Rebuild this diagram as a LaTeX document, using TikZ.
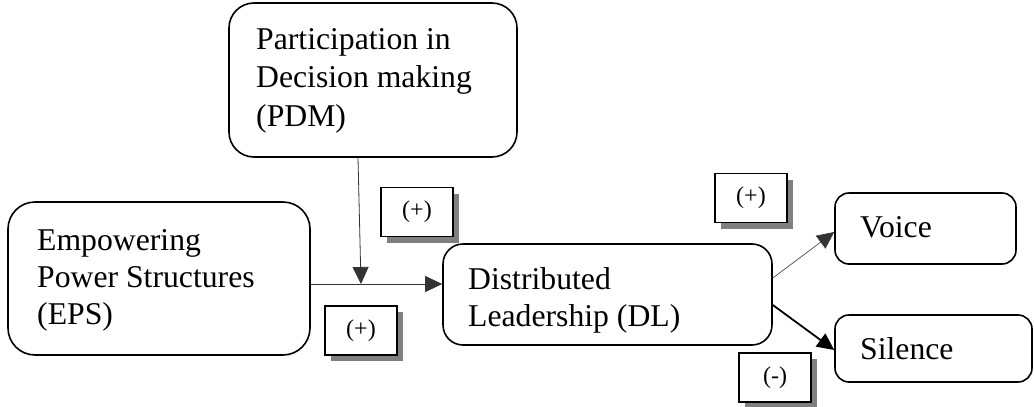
\documentclass[tikz,border=0pt]{standalone}
\usepackage{fontspec}
\setmainfont{Liberation Serif}
\usetikzlibrary{arrows.meta,shadows}
\tikzset{
  rbox/.style={draw=black, line width=1.6pt, rounded corners=#1, inner sep=0pt, fill=white},
  btxt/.style={anchor=north west, inner sep=0pt, align=left, font=\fontsize{31.7}{37}\selectfont},
  sbox/.style={draw=black, line width=1.6pt, fill=white, inner sep=0pt,
    minimum width=72pt, minimum height=49pt, font=\fontsize{24}{28}\selectfont,
    drop shadow={shadow xshift=6pt, shadow yshift=-6pt, fill=gray, opacity=1}},
  thinarrow/.style={draw=black!80, line width=0.8pt, -{Triangle[length=17pt,width=16pt]}},
  thickarrow/.style={draw=black, line width=1.8pt, -{Triangle[length=17pt,width=16pt]}},
}
\begin{document}
\begin{tikzpicture}[x=1pt,y=-1pt]
\useasboundingbox (0,0) rectangle (1034,407);
% boxes
\node[rbox=25pt, minimum width=288pt, minimum height=154pt] (pdm) at (373,80) {};
\node[rbox=27pt, minimum width=302pt, minimum height=153pt] (eps) at (159,278.5) {};
\node[rbox=20pt, minimum width=329pt, minimum height=101pt] (dl) at (607.5,294.5) {};
\node[rbox=14pt, minimum width=181pt, minimum height=71pt] (voice) at (925.5,228.5) {};
\node[rbox=14pt, minimum width=197pt, minimum height=67pt] (silence) at (933.5,348.5) {};
% texts
\node[btxt, font=\fontsize{31.7}{38.5}\selectfont] (pdmT) at (256,28) {Participation in\\Decision making\\(PDM)};
\node[btxt] (epsT) at (37,229) {Empowering\\Power Structures\\(EPS)};
\node[btxt] (dlT) at (468,267) {Distributed\\Leadership (DL)};
\node[btxt] (voiceT) at (860,216) {Voice};
\node[btxt] (silenceT) at (860,337) {Silence};
% sign labels
\node[sbox] (s1) at (417,212) {(+)};
\node[sbox] (s2) at (361,330.5) {(+)};
\node[sbox] (s3) at (751,198) {(+)};
\node[sbox] (s4) at (775,377.5) {(-)};
% connectors
\coordinate (m) at (361,284);
\draw[draw=black!80, line width=0.8pt] (eps.east |- m) -- (m);
\draw[thinarrow] (m) -- (dl.west |- m);
\draw[thinarrow] ([xshift=-15pt]pdm.south) -- (m);
\draw[thinarrow, line width=0.6pt] ([yshift=16.5pt]dl.east) -- ([yshift=-3.5pt]voice.west);
\draw[thickarrow] ([yshift=-10.5pt]dl.east) -- ([yshift=-1.5pt]silence.west);
\end{tikzpicture}
\end{document}
